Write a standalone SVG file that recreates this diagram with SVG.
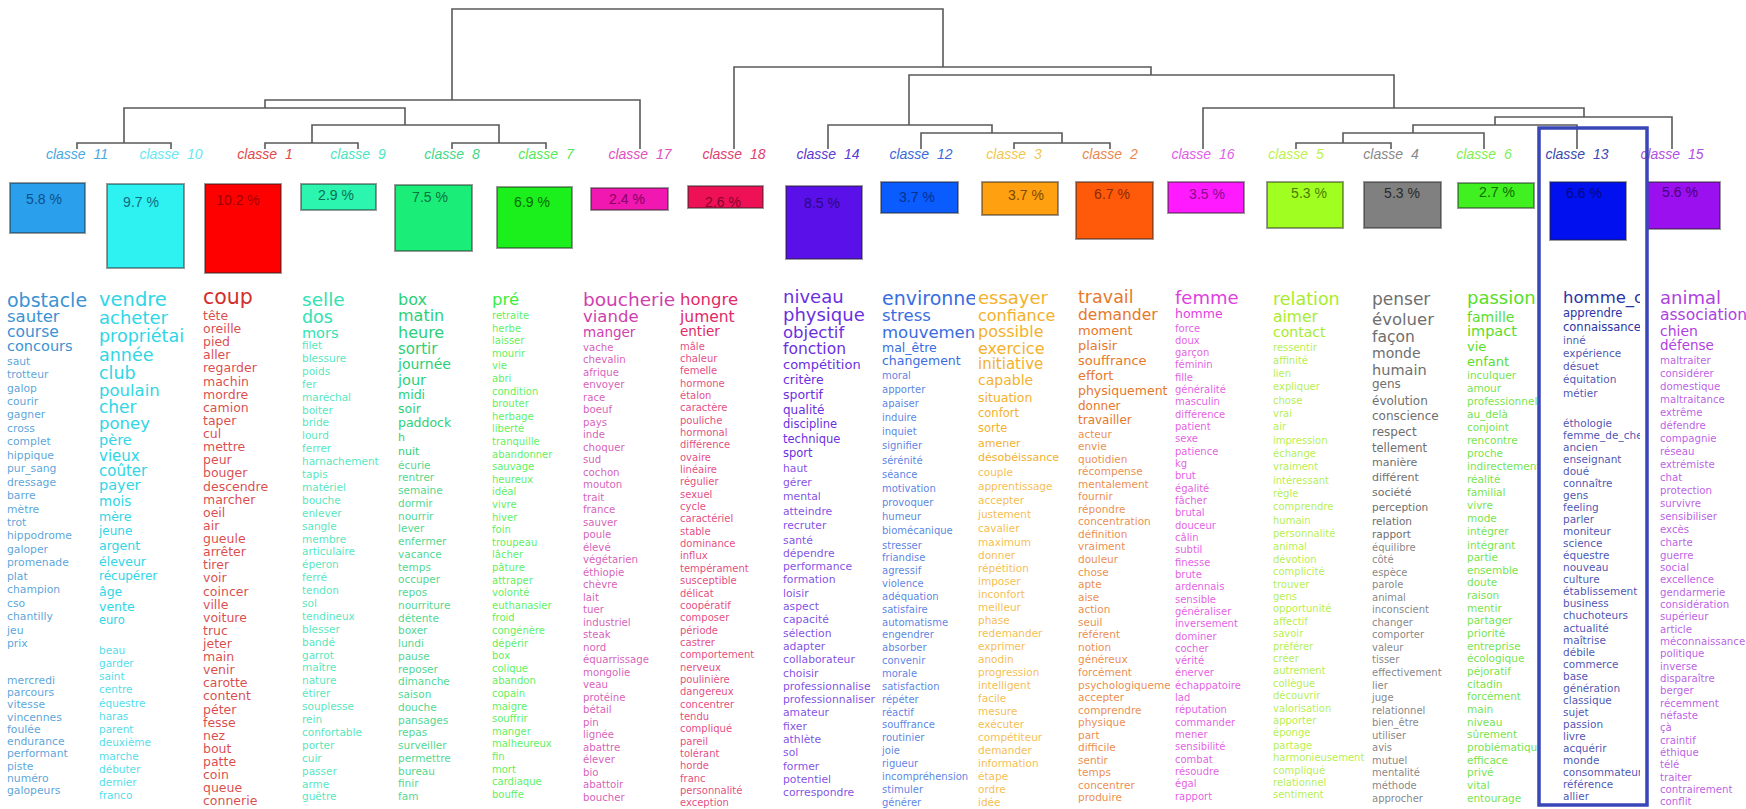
<svg xmlns="http://www.w3.org/2000/svg" width="1746" height="809" viewBox="0 0 1746 809">
<style>
.w text{font-family:"DejaVu Sans","Liberation Sans",sans-serif}
.sm{fill-opacity:.85}
.lbl{font-family:"Liberation Sans",Arial,sans-serif;font-style:italic;font-size:14px;text-anchor:middle}
.pct{font-family:"Liberation Sans",Arial,sans-serif;font-size:14px;text-anchor:middle}
.box{stroke:#222;stroke-opacity:.45;stroke-width:2}
.dend{fill:none;stroke:#5a5a5a;stroke-width:1.6}
</style>
<defs>
<clipPath id="k11"><rect x="-5" y="250" width="94" height="560"/></clipPath>
<clipPath id="k10"><rect x="-5" y="250" width="106" height="560"/></clipPath>
<clipPath id="k1"><rect x="-5" y="250" width="101" height="560"/></clipPath>
<clipPath id="k9"><rect x="-5" y="250" width="98" height="560"/></clipPath>
<clipPath id="k8"><rect x="-5" y="250" width="96" height="560"/></clipPath>
<clipPath id="k7"><rect x="-5" y="250" width="93" height="560"/></clipPath>
<clipPath id="k17"><rect x="-5" y="250" width="99" height="560"/></clipPath>
<clipPath id="k18"><rect x="-5" y="250" width="105" height="560"/></clipPath>
<clipPath id="k14"><rect x="-5" y="250" width="101" height="560"/></clipPath>
<clipPath id="k12"><rect x="-5" y="250" width="98" height="560"/></clipPath>
<clipPath id="k3"><rect x="-5" y="250" width="102" height="560"/></clipPath>
<clipPath id="k2"><rect x="-5" y="250" width="97" height="560"/></clipPath>
<clipPath id="k16"><rect x="-5" y="250" width="100" height="560"/></clipPath>
<clipPath id="k5"><rect x="-5" y="250" width="101" height="560"/></clipPath>
<clipPath id="k4"><rect x="-5" y="250" width="97" height="560"/></clipPath>
<clipPath id="k6"><rect x="-5" y="250" width="76" height="560"/></clipPath>
<clipPath id="k13"><rect x="-5" y="250" width="82" height="560"/></clipPath>
<clipPath id="k15"><rect x="-5" y="250" width="91" height="560"/></clipPath>
</defs>
<rect width="1746" height="809" fill="#fff"/>

<g id="connectors" class="dend">
<path d="M452,100V9H943V67"/>
<path d="M265,108V100H640V149"/>
<path d="M124,143V108H405V125"/>
<path d="M77,149V143H171V149"/>
<path d="M312,143V125H499V143"/>
<path d="M265,149V143H358V149"/>
<path d="M452,149V143H546V149"/>
<path d="M734,149V67H1151V75"/>
<path d="M909,125V75H1394V108"/>
<path d="M828,149V125H992V133"/>
<path d="M921,149V133H1062V143"/>
<path d="M1014,149V143H1110V149"/>
<path d="M1203,149V108H1584V117"/>
<path d="M1495,125V117H1672V149"/>
<path d="M1413,133V125H1577V149"/>
<path d="M1343,143V133H1484V149"/>
<path d="M1296,149V143H1391V149"/>
</g>

<g id="labels">
<text class="lbl" x="77" y="159" fill="#4aa8e0">classe <tspan dx="4">11</tspan></text>
<text class="lbl" x="171" y="159" fill="#66e8f2">classe <tspan dx="4">10</tspan></text>
<text class="lbl" x="265" y="159" fill="#e04848">classe <tspan dx="4">1</tspan></text>
<text class="lbl" x="358" y="159" fill="#4ae6c0">classe <tspan dx="4">9</tspan></text>
<text class="lbl" x="452" y="159" fill="#44d888">classe <tspan dx="4">8</tspan></text>
<text class="lbl" x="546" y="159" fill="#55ea55">classe <tspan dx="4">7</tspan></text>
<text class="lbl" x="640" y="159" fill="#e050c0">classe <tspan dx="4">17</tspan></text>
<text class="lbl" x="734" y="159" fill="#e04070">classe <tspan dx="4">18</tspan></text>
<text class="lbl" x="828" y="159" fill="#5a3ad0">classe <tspan dx="4">14</tspan></text>
<text class="lbl" x="921" y="159" fill="#3a6ad8">classe <tspan dx="4">12</tspan></text>
<text class="lbl" x="1014" y="159" fill="#f0c850">classe <tspan dx="4">3</tspan></text>
<text class="lbl" x="1110" y="159" fill="#e88850">classe <tspan dx="4">2</tspan></text>
<text class="lbl" x="1203" y="159" fill="#e060e8">classe <tspan dx="4">16</tspan></text>
<text class="lbl" x="1296" y="159" fill="#c0f050">classe <tspan dx="4">5</tspan></text>
<text class="lbl" x="1391" y="159" fill="#888">classe <tspan dx="4">4</tspan></text>
<text class="lbl" x="1484" y="159" fill="#80ee50">classe <tspan dx="4">6</tspan></text>
<text class="lbl" x="1577" y="159" fill="#3a48b0">classe <tspan dx="4">13</tspan></text>
<text class="lbl" x="1672" y="159" fill="#b050e0">classe <tspan dx="4">15</tspan></text>
</g>

<g id="boxes">
<g id="b11"><rect class="box" x="10" y="183" width="75" height="50" fill="#2aa0ec"/><text class="pct" x="44" y="204" fill="#0d4f8a">5.8 %</text></g>
<g id="b10"><rect class="box" x="107" y="184" width="77" height="84" fill="#2ef2f2"/><text class="pct" x="141" y="207" fill="#0e6b80">9.7 %</text></g>
<g id="b1"><rect class="box" x="205" y="184" width="76" height="89" fill="#ff0000"/><text class="pct" x="238" y="205" fill="#a00000">10.2 %</text></g>
<g id="b9"><rect class="box" x="301" y="184" width="75" height="26" fill="#2cf5b0"/><text class="pct" x="336" y="200" fill="#0a7050">2.9 %</text></g>
<g id="b8"><rect class="box" x="395" y="185" width="77" height="66" fill="#1aee78"/><text class="pct" x="430" y="202" fill="#0a7040">7.5 %</text></g>
<g id="b7"><rect class="box" x="497" y="187" width="75" height="61" fill="#1cf01c"/><text class="pct" x="532" y="207" fill="#0a6a0a">6.9 %</text></g>
<g id="b17"><rect class="box" x="591" y="188" width="77" height="22" fill="#f018b0"/><text class="pct" x="627" y="204" fill="#880060">2.4 %</text></g>
<g id="b18"><rect class="box" x="688" y="186" width="75" height="22" fill="#ee1155"/><text class="pct" x="723" y="207" fill="#880030">2.6 %</text></g>
<g id="b14"><rect class="box" x="786" y="186" width="76" height="73" fill="#5a10e8"/><text class="pct" x="822" y="208" fill="#2a0880">8.5 %</text></g>
<g id="b12"><rect class="box" x="881" y="182" width="77" height="31" fill="#0a5cff"/><text class="pct" x="917" y="202" fill="#06308a">3.7 %</text></g>
<g id="b3"><rect class="box" x="982" y="182" width="76" height="33" fill="#ffa010"/><text class="pct" x="1026" y="200" fill="#7a4a00">3.7 %</text></g>
<g id="b2"><rect class="box" x="1076" y="182" width="77" height="57" fill="#ff5a0a"/><text class="pct" x="1112" y="199" fill="#8a2a00">6.7 %</text></g>
<g id="b16"><rect class="box" x="1168" y="182" width="76" height="31" fill="#ff1aff"/><text class="pct" x="1207" y="199" fill="#8a0a8a">3.5 %</text></g>
<g id="b5"><rect class="box" x="1267" y="182" width="76" height="46" fill="#a0ff20"/><text class="pct" x="1309" y="198" fill="#4a7a00">5.3 %</text></g>
<g id="b4"><rect class="box" x="1364" y="182" width="77" height="46" fill="#808080"/><text class="pct" x="1402" y="198" fill="#2a2a2a">5.3 %</text></g>
<g id="b6"><rect class="box" x="1458" y="183" width="76" height="25" fill="#40f020"/><text class="pct" x="1497" y="197" fill="#106a00">2.7 %</text></g>
<g id="b13"><rect class="box" x="1550" y="182" width="76" height="58" fill="#0010ee"/><text class="pct" x="1584" y="198" fill="#000880">6.6 %</text></g>
<g id="b15"><rect class="box" x="1647" y="182" width="73" height="47" fill="#9a10ee"/><text class="pct" x="1680" y="197" fill="#4a0080">5.6 %</text></g>
</g>

<g class="w">
<g id="c11" transform="translate(7,0)" clip-path="url(#k11)" fill="#3a93d3">
<text y="306.5" font-size="19">obstacle</text>
<text y="322" font-size="16.5">sauter</text>
<text y="337" font-size="15.5">course</text>
<text y="351" font-size="14.5">concours</text>
<text class="sm" y="364.6" font-size="10.8"><tspan x="0">saut</tspan><tspan x="0" dy="13.45">trotteur</tspan><tspan x="0" dy="13.45">galop</tspan><tspan x="0" dy="13.45">courir</tspan><tspan x="0" dy="13.45">gagner</tspan><tspan x="0" dy="13.45">cross</tspan><tspan x="0" dy="13.45">complet</tspan><tspan x="0" dy="13.45">hippique</tspan><tspan x="0" dy="13.45">pur_sang</tspan><tspan x="0" dy="13.45">dressage</tspan><tspan x="0" dy="13.45">barre</tspan><tspan x="0" dy="13.45">mètre</tspan><tspan x="0" dy="13.45">trot</tspan><tspan x="0" dy="13.45">hippodrome</tspan><tspan x="0" dy="13.45">galoper</tspan><tspan x="0" dy="13.45">promenade</tspan><tspan x="0" dy="13.45">plat</tspan><tspan x="0" dy="13.45">champion</tspan><tspan x="0" dy="13.45">cso</tspan><tspan x="0" dy="13.45">chantilly</tspan><tspan x="0" dy="13.45">jeu</tspan><tspan x="0" dy="13.45">prix</tspan><tspan x="0" dy="36.6">mercredi</tspan><tspan x="0" dy="12.3">parcours</tspan><tspan x="0" dy="12.3">vitesse</tspan><tspan x="0" dy="12.3">vincennes</tspan><tspan x="0" dy="12.3">foulée</tspan><tspan x="0" dy="12.3">endurance</tspan><tspan x="0" dy="12.3">performant</tspan><tspan x="0" dy="12.3">piste</tspan><tspan x="0" dy="12.3">numéro</tspan><tspan x="0" dy="12.3">galopeurs</tspan></text>
</g>

<g id="c10" transform="translate(99,0)" clip-path="url(#k10)" fill="#2fd6e6">
<text y="305.5" font-size="19.5">vendre</text>
<text y="323.5" font-size="18">acheter</text>
<text y="341.5" font-size="17.5">propriétai</text>
<text y="360.5" font-size="17.5">année</text>
<text y="378.5" font-size="17.5">club</text>
<text y="396" font-size="16.5">poulain</text>
<text y="413" font-size="17">cher</text>
<text y="428.5" font-size="16.5">poney</text>
<text y="444.5" font-size="14.5">père</text>
<text y="460.5" font-size="15">vieux</text>
<text y="475.5" font-size="15">coûter</text>
<text y="490" font-size="14.5">payer</text>
<text y="506" font-size="13.5">mois</text>
<text y="521" font-size="12.5">mère</text>
<text y="535" font-size="12">jeune</text>
<text y="550" font-size="12.5">argent</text>
<text y="566" font-size="12.5">éleveur</text>
<text y="580" font-size="12">récupérer</text>
<text y="596" font-size="12.5">âge</text>
<text y="611" font-size="12.5">vente</text>
<text y="623.5" font-size="11.5">euro</text>
<text class="sm" y="653.5" font-size="10.5"><tspan x="0">beau</tspan><tspan x="0" dy="13.27">garder</tspan><tspan x="0" dy="13.27">saint</tspan><tspan x="0" dy="13.27">centre</tspan><tspan x="0" dy="13.27">équestre</tspan><tspan x="0" dy="13.27">haras</tspan><tspan x="0" dy="13.27">parent</tspan><tspan x="0" dy="13.27">deuxième</tspan><tspan x="0" dy="13.27">marche</tspan><tspan x="0" dy="13.27">débuter</tspan><tspan x="0" dy="13.27">dernier</tspan><tspan x="0" dy="13.27">franco</tspan></text>
</g>

<g id="c1" transform="translate(203,0)" clip-path="url(#k1)" fill="#d42c2c">
<text y="304" font-size="20.5">coup</text>
<text class="sm" y="320" font-size="12.5"><tspan x="0">tête</tspan><tspan x="0" dy="13.12">oreille</tspan><tspan x="0" dy="13.12">pied</tspan><tspan x="0" dy="13.12">aller</tspan><tspan x="0" dy="13.12">regarder</tspan><tspan x="0" dy="13.12">machin</tspan><tspan x="0" dy="13.12">mordre</tspan><tspan x="0" dy="13.12">camion</tspan><tspan x="0" dy="13.12">taper</tspan><tspan x="0" dy="13.12">cul</tspan><tspan x="0" dy="13.12">mettre</tspan><tspan x="0" dy="13.12">peur</tspan><tspan x="0" dy="13.12">bouger</tspan><tspan x="0" dy="13.12">descendre</tspan><tspan x="0" dy="13.12">marcher</tspan><tspan x="0" dy="13.12">oeil</tspan><tspan x="0" dy="13.12">air</tspan><tspan x="0" dy="13.12">gueule</tspan><tspan x="0" dy="13.12">arrêter</tspan><tspan x="0" dy="13.12">tirer</tspan><tspan x="0" dy="13.12">voir</tspan><tspan x="0" dy="13.12">coincer</tspan><tspan x="0" dy="13.12">ville</tspan><tspan x="0" dy="13.12">voiture</tspan><tspan x="0" dy="13.12">truc</tspan><tspan x="0" dy="13.12">jeter</tspan><tspan x="0" dy="13.12">main</tspan><tspan x="0" dy="13.12">venir</tspan><tspan x="0" dy="13.12">carotte</tspan><tspan x="0" dy="13.12">content</tspan><tspan x="0" dy="13.12">péter</tspan><tspan x="0" dy="13.12">fesse</tspan><tspan x="0" dy="13.12">nez</tspan><tspan x="0" dy="13.12">bout</tspan><tspan x="0" dy="13.12">patte</tspan><tspan x="0" dy="13.12">coin</tspan><tspan x="0" dy="13.12">queue</tspan><tspan x="0" dy="13.12">connerie</tspan></text>
</g>

<g id="c9" transform="translate(302,0)" clip-path="url(#k9)" fill="#33e2b2">
<text y="305.5" font-size="18.5">selle</text>
<text y="322.5" font-size="17.5">dos</text>
<text y="337.5" font-size="14.5">mors</text>
<text class="sm" y="349" font-size="10.5"><tspan x="0">filet</tspan><tspan x="0" dy="12.9">blessure</tspan><tspan x="0" dy="12.9">poids</tspan><tspan x="0" dy="12.9">fer</tspan><tspan x="0" dy="12.9">maréchal</tspan><tspan x="0" dy="12.9">boiter</tspan><tspan x="0" dy="12.9">bride</tspan><tspan x="0" dy="12.9">lourd</tspan><tspan x="0" dy="12.9">ferrer</tspan><tspan x="0" dy="12.9">harnachement</tspan><tspan x="0" dy="12.9">tapis</tspan><tspan x="0" dy="12.9">matériel</tspan><tspan x="0" dy="12.9">bouche</tspan><tspan x="0" dy="12.9">enlever</tspan><tspan x="0" dy="12.9">sangle</tspan><tspan x="0" dy="12.9">membre</tspan><tspan x="0" dy="12.9">articulaire</tspan><tspan x="0" dy="12.9">éperon</tspan><tspan x="0" dy="12.9">ferré</tspan><tspan x="0" dy="12.9">tendon</tspan><tspan x="0" dy="12.9">sol</tspan><tspan x="0" dy="12.9">tendineux</tspan><tspan x="0" dy="12.9">blesser</tspan><tspan x="0" dy="12.9">bandé</tspan><tspan x="0" dy="12.9">garrot</tspan><tspan x="0" dy="12.9">maître</tspan><tspan x="0" dy="12.9">nature</tspan><tspan x="0" dy="12.9">étirer</tspan><tspan x="0" dy="12.9">souplesse</tspan><tspan x="0" dy="12.9">rein</tspan><tspan x="0" dy="12.9">confortable</tspan><tspan x="0" dy="12.9">porter</tspan><tspan x="0" dy="12.9">cuir</tspan><tspan x="0" dy="12.9">passer</tspan><tspan x="0" dy="12.9">arme</tspan><tspan x="0" dy="12.9">guêtre</tspan></text>
</g>

<g id="c8" transform="translate(398,0)" clip-path="url(#k8)" fill="#2ccf78">
<text y="305" font-size="16">box</text>
<text y="321" font-size="16">matin</text>
<text y="337.5" font-size="16">heure</text>
<text y="353.5" font-size="15">sortir</text>
<text y="368.5" font-size="14">journée</text>
<text y="384.5" font-size="14.5">jour</text>
<text y="399" font-size="12.5">midi</text>
<text y="413" font-size="12.5">soir</text>
<text y="427" font-size="12.5">paddock</text>
<text y="441" font-size="11">h</text>
<text y="455" font-size="11">nuit</text>
<text class="sm" y="468.5" font-size="10.5"><tspan x="0">écurie</tspan><tspan x="0" dy="12.75">rentrer</tspan><tspan x="0" dy="12.75">semaine</tspan><tspan x="0" dy="12.75">dormir</tspan><tspan x="0" dy="12.75">nourrir</tspan><tspan x="0" dy="12.75">lever</tspan><tspan x="0" dy="12.75">enfermer</tspan><tspan x="0" dy="12.75">vacance</tspan><tspan x="0" dy="12.75">temps</tspan><tspan x="0" dy="12.75">occuper</tspan><tspan x="0" dy="12.75">repos</tspan><tspan x="0" dy="12.75">nourriture</tspan><tspan x="0" dy="12.75">détente</tspan><tspan x="0" dy="12.75">boxer</tspan><tspan x="0" dy="12.75">lundi</tspan><tspan x="0" dy="12.75">pause</tspan><tspan x="0" dy="12.75">reposer</tspan><tspan x="0" dy="12.75">dimanche</tspan><tspan x="0" dy="12.75">saison</tspan><tspan x="0" dy="12.75">douche</tspan><tspan x="0" dy="12.75">pansages</tspan><tspan x="0" dy="12.75">repas</tspan><tspan x="0" dy="12.75">surveiller</tspan><tspan x="0" dy="12.75">permettre</tspan><tspan x="0" dy="12.75">bureau</tspan><tspan x="0" dy="12.75">finir</tspan><tspan x="0" dy="12.75">fam</tspan></text>
</g>

<g id="c7" transform="translate(492,0)" clip-path="url(#k7)" fill="#3ced3c">
<text y="305" font-size="16.5">pré</text>
<text class="sm" y="319" font-size="10"><tspan x="0">retraite</tspan><tspan x="0" dy="12.6">herbe</tspan><tspan x="0" dy="12.6">laisser</tspan><tspan x="0" dy="12.6">mourir</tspan><tspan x="0" dy="12.6">vie</tspan><tspan x="0" dy="12.6">abri</tspan><tspan x="0" dy="12.6">condition</tspan><tspan x="0" dy="12.6">brouter</tspan><tspan x="0" dy="12.6">herbage</tspan><tspan x="0" dy="12.6">liberté</tspan><tspan x="0" dy="12.6">tranquille</tspan><tspan x="0" dy="12.6">abandonner</tspan><tspan x="0" dy="12.6">sauvage</tspan><tspan x="0" dy="12.6">heureux</tspan><tspan x="0" dy="12.6">idéal</tspan><tspan x="0" dy="12.6">vivre</tspan><tspan x="0" dy="12.6">hiver</tspan><tspan x="0" dy="12.6">foin</tspan><tspan x="0" dy="12.6">troupeau</tspan><tspan x="0" dy="12.6">lâcher</tspan><tspan x="0" dy="12.6">pâture</tspan><tspan x="0" dy="12.6">attraper</tspan><tspan x="0" dy="12.6">volonté</tspan><tspan x="0" dy="12.6">euthanasier</tspan><tspan x="0" dy="12.6">froid</tspan><tspan x="0" dy="12.6">congénère</tspan><tspan x="0" dy="12.6">dépérir</tspan><tspan x="0" dy="12.6">box</tspan><tspan x="0" dy="12.6">colique</tspan><tspan x="0" dy="12.6">abandon</tspan><tspan x="0" dy="12.6">copain</tspan><tspan x="0" dy="12.6">maigre</tspan><tspan x="0" dy="12.6">souffrir</tspan><tspan x="0" dy="12.6">manger</tspan><tspan x="0" dy="12.6">malheureux</tspan><tspan x="0" dy="12.6">fin</tspan><tspan x="0" dy="12.6">mort</tspan><tspan x="0" dy="12.6">cardiaque</tspan><tspan x="0" dy="12.6">bouffe</tspan></text>
</g>

<g id="c17" transform="translate(583,0)" clip-path="url(#k17)" fill="#d03fae">
<text y="305.5" font-size="18.5">boucherie</text>
<text y="322" font-size="16.5">viande</text>
<text y="337" font-size="13.5">manger</text>
<text class="sm" y="351" font-size="10.2"><tspan x="0">vache</tspan><tspan x="0" dy="12.49">chevalin</tspan><tspan x="0" dy="12.49">afrique</tspan><tspan x="0" dy="12.49">envoyer</tspan><tspan x="0" dy="12.49">race</tspan><tspan x="0" dy="12.49">boeuf</tspan><tspan x="0" dy="12.49">pays</tspan><tspan x="0" dy="12.49">inde</tspan><tspan x="0" dy="12.49">choquer</tspan><tspan x="0" dy="12.49">sud</tspan><tspan x="0" dy="12.49">cochon</tspan><tspan x="0" dy="12.49">mouton</tspan><tspan x="0" dy="12.49">trait</tspan><tspan x="0" dy="12.49">france</tspan><tspan x="0" dy="12.49">sauver</tspan><tspan x="0" dy="12.49">poule</tspan><tspan x="0" dy="12.49">élevé</tspan><tspan x="0" dy="12.49">végétarien</tspan><tspan x="0" dy="12.49">éthiopie</tspan><tspan x="0" dy="12.49">chèvre</tspan><tspan x="0" dy="12.49">lait</tspan><tspan x="0" dy="12.49">tuer</tspan><tspan x="0" dy="12.49">industriel</tspan><tspan x="0" dy="12.49">steak</tspan><tspan x="0" dy="12.49">nord</tspan><tspan x="0" dy="12.49">équarrissage</tspan><tspan x="0" dy="12.49">mongolie</tspan><tspan x="0" dy="12.49">veau</tspan><tspan x="0" dy="12.49">protéine</tspan><tspan x="0" dy="12.49">bétail</tspan><tspan x="0" dy="12.49">pin</tspan><tspan x="0" dy="12.49">lignée</tspan><tspan x="0" dy="12.49">abattre</tspan><tspan x="0" dy="12.49">élever</tspan><tspan x="0" dy="12.49">bio</tspan><tspan x="0" dy="12.49">abattoir</tspan><tspan x="0" dy="12.49">boucher</tspan></text>
</g>

<g id="c18" transform="translate(680,0)" clip-path="url(#k18)" fill="#e02a68">
<text y="305" font-size="16.5">hongre</text>
<text y="322" font-size="15.5">jument</text>
<text y="336" font-size="13.5">entier</text>
<text class="sm" y="349.5" font-size="10"><tspan x="0">mâle</tspan><tspan x="0" dy="12.35">chaleur</tspan><tspan x="0" dy="12.35">femelle</tspan><tspan x="0" dy="12.35">hormone</tspan><tspan x="0" dy="12.35">étalon</tspan><tspan x="0" dy="12.35">caractère</tspan><tspan x="0" dy="12.35">pouliche</tspan><tspan x="0" dy="12.35">hormonal</tspan><tspan x="0" dy="12.35">différence</tspan><tspan x="0" dy="12.35">ovaire</tspan><tspan x="0" dy="12.35">linéaire</tspan><tspan x="0" dy="12.35">régulier</tspan><tspan x="0" dy="12.35">sexuel</tspan><tspan x="0" dy="12.35">cycle</tspan><tspan x="0" dy="12.35">caractériel</tspan><tspan x="0" dy="12.35">stable</tspan><tspan x="0" dy="12.35">dominance</tspan><tspan x="0" dy="12.35">influx</tspan><tspan x="0" dy="12.35">tempérament</tspan><tspan x="0" dy="12.35">susceptible</tspan><tspan x="0" dy="12.35">délicat</tspan><tspan x="0" dy="12.35">coopératif</tspan><tspan x="0" dy="12.35">composer</tspan><tspan x="0" dy="12.35">période</tspan><tspan x="0" dy="12.35">castrer</tspan><tspan x="0" dy="12.35">comportement</tspan><tspan x="0" dy="12.35">nerveux</tspan><tspan x="0" dy="12.35">poulinière</tspan><tspan x="0" dy="12.35">dangereux</tspan><tspan x="0" dy="12.35">concentrer</tspan><tspan x="0" dy="12.35">tendu</tspan><tspan x="0" dy="12.35">compliqué</tspan><tspan x="0" dy="12.35">pareil</tspan><tspan x="0" dy="12.35">tolérant</tspan><tspan x="0" dy="12.35">horde</tspan><tspan x="0" dy="12.35">franc</tspan><tspan x="0" dy="12.35">personnalité</tspan><tspan x="0" dy="12.35">exception</tspan></text>
</g>

<g id="c14" transform="translate(783,0)" clip-path="url(#k14)" fill="#6a2fe0">
<text y="302.5" font-size="18">niveau</text>
<text y="321" font-size="18">physique</text>
<text y="337.5" font-size="16.5">objectif</text>
<text y="354" font-size="15.5">fonction</text>
<text y="368.5" font-size="13">compétition</text>
<text y="384" font-size="12.5">critère</text>
<text y="399" font-size="12.5">sportif</text>
<text y="413.5" font-size="12">qualité</text>
<text y="427.5" font-size="11.5">discipline</text>
<text y="442.5" font-size="11.5">technique</text>
<text y="456.5" font-size="11.5">sport</text>
<text class="sm" y="471.5" font-size="10.8"><tspan x="0">haut</tspan><tspan x="0" dy="14.4">gérer</tspan><tspan x="0" dy="14.4">mental</tspan><tspan x="0" dy="14.4">atteindre</tspan><tspan x="0" dy="14.4">recruter</tspan><tspan x="0" dy="14.4">santé</tspan><tspan x="0" dy="13.3">dépendre</tspan><tspan x="0" dy="13.3">performance</tspan><tspan x="0" dy="13.3">formation</tspan><tspan x="0" dy="13.3">loisir</tspan><tspan x="0" dy="13.3">aspect</tspan><tspan x="0" dy="13.3">capacité</tspan><tspan x="0" dy="13.3">sélection</tspan><tspan x="0" dy="13.3">adapter</tspan><tspan x="0" dy="13.3">collaborateur</tspan><tspan x="0" dy="13.3">choisir</tspan><tspan x="0" dy="13.3">professionnalise</tspan><tspan x="0" dy="13.3">professionnaliser</tspan><tspan x="0" dy="13.3">amateur</tspan><tspan x="0" dy="13.3">fixer</tspan><tspan x="0" dy="13.3">athlète</tspan><tspan x="0" dy="13.3">sol</tspan><tspan x="0" dy="13.3">former</tspan><tspan x="0" dy="13.3">potentiel</tspan><tspan x="0" dy="13.3">correspondre</tspan></text>
</g>

<g id="c12" transform="translate(882,0)" clip-path="url(#k12)" fill="#3a6de0">
<text y="305" font-size="19">environne</text>
<text y="321" font-size="16.5">stress</text>
<text y="338" font-size="16.5">mouvemen</text>
<text y="352" font-size="12.5">mal_être</text>
<text y="365" font-size="12.5">changement</text>
<text class="sm" y="378.5" font-size="10"><tspan x="0">moral</tspan><tspan x="0" dy="14.17">apporter</tspan><tspan x="0" dy="14.17">apaiser</tspan><tspan x="0" dy="14.17">induire</tspan><tspan x="0" dy="14.17">inquiet</tspan><tspan x="0" dy="14.17">signifier</tspan><tspan x="0" dy="14.17">sérénité</tspan><tspan x="0" dy="14.17">séance</tspan><tspan x="0" dy="14.17">motivation</tspan><tspan x="0" dy="14.17">provoquer</tspan><tspan x="0" dy="14.17">humeur</tspan><tspan x="0" dy="14.17">biomécanique</tspan><tspan x="0" dy="14.17">stresser</tspan><tspan x="0" dy="12.85">friandise</tspan><tspan x="0" dy="12.85">agressif</tspan><tspan x="0" dy="12.85">violence</tspan><tspan x="0" dy="12.85">adéquation</tspan><tspan x="0" dy="12.85">satisfaire</tspan><tspan x="0" dy="12.85">automatisme</tspan><tspan x="0" dy="12.85">engendrer</tspan><tspan x="0" dy="12.85">absorber</tspan><tspan x="0" dy="12.85">convenir</tspan><tspan x="0" dy="12.85">morale</tspan><tspan x="0" dy="12.85">satisfaction</tspan><tspan x="0" dy="12.85">répéter</tspan><tspan x="0" dy="12.85">réactif</tspan><tspan x="0" dy="12.85">souffrance</tspan><tspan x="0" dy="12.85">routinier</tspan><tspan x="0" dy="12.85">joie</tspan><tspan x="0" dy="12.85">rigueur</tspan><tspan x="0" dy="12.85">incompréhension</tspan><tspan x="0" dy="12.85">stimuler</tspan><tspan x="0" dy="12.85">générer</tspan></text>
</g>

<g id="c3" transform="translate(978,0)" clip-path="url(#k3)" fill="#f4b12c">
<text y="303.5" font-size="18">essayer</text>
<text y="320.5" font-size="16">confiance</text>
<text y="337" font-size="16">possible</text>
<text y="354" font-size="16">exercice</text>
<text y="369" font-size="15">initiative</text>
<text y="385" font-size="14">capable</text>
<text y="402" font-size="12.5">situation</text>
<text y="417" font-size="11.5">confort</text>
<text y="432" font-size="11.5">sorte</text>
<text y="446.5" font-size="11">amener</text>
<text y="460.5" font-size="11">désobéissance</text>
<text class="sm" y="475.5" font-size="10.5"><tspan x="0">couple</tspan><tspan x="0" dy="14">apprentissage</tspan><tspan x="0" dy="14">accepter</tspan><tspan x="0" dy="14">justement</tspan><tspan x="0" dy="14">cavalier</tspan><tspan x="0" dy="14">maximum</tspan><tspan x="0" dy="13">donner</tspan><tspan x="0" dy="13">répétition</tspan><tspan x="0" dy="13">imposer</tspan><tspan x="0" dy="13">inconfort</tspan><tspan x="0" dy="13">meilleur</tspan><tspan x="0" dy="13">phase</tspan><tspan x="0" dy="13">redemander</tspan><tspan x="0" dy="13">exprimer</tspan><tspan x="0" dy="13">anodin</tspan><tspan x="0" dy="13">progression</tspan><tspan x="0" dy="13">intelligent</tspan><tspan x="0" dy="13">facile</tspan><tspan x="0" dy="13">mesure</tspan><tspan x="0" dy="13">exécuter</tspan><tspan x="0" dy="13">compétiteur</tspan><tspan x="0" dy="13">demander</tspan><tspan x="0" dy="13">information</tspan><tspan x="0" dy="13">étape</tspan><tspan x="0" dy="13">ordre</tspan><tspan x="0" dy="13">idée</tspan></text>
</g>

<g id="c2" transform="translate(1078,0)" clip-path="url(#k2)" fill="#e8782a">
<text y="303" font-size="17.5">travail</text>
<text y="320" font-size="15.5">demander</text>
<text y="335" font-size="13">moment</text>
<text y="350" font-size="13">plaisir</text>
<text y="365" font-size="13">souffrance</text>
<text y="380" font-size="13">effort</text>
<text y="395" font-size="12.5">physiquement</text>
<text y="409.5" font-size="12">donner</text>
<text y="423.5" font-size="12">travailler</text>
<text class="sm" y="437.5" font-size="10.5"><tspan x="0">acteur</tspan><tspan x="0" dy="12.55">envie</tspan><tspan x="0" dy="12.55">quotidien</tspan><tspan x="0" dy="12.55">récompense</tspan><tspan x="0" dy="12.55">mentalement</tspan><tspan x="0" dy="12.55">fournir</tspan><tspan x="0" dy="12.55">répondre</tspan><tspan x="0" dy="12.55">concentration</tspan><tspan x="0" dy="12.55">définition</tspan><tspan x="0" dy="12.55">vraiment</tspan><tspan x="0" dy="12.55">douleur</tspan><tspan x="0" dy="12.55">chose</tspan><tspan x="0" dy="12.55">apte</tspan><tspan x="0" dy="12.55">aise</tspan><tspan x="0" dy="12.55">action</tspan><tspan x="0" dy="12.55">seuil</tspan><tspan x="0" dy="12.55">référent</tspan><tspan x="0" dy="12.55">notion</tspan><tspan x="0" dy="12.55">généreux</tspan><tspan x="0" dy="12.55">forcément</tspan><tspan x="0" dy="12.55">psychologiqueme</tspan><tspan x="0" dy="12.55">accepter</tspan><tspan x="0" dy="12.55">comprendre</tspan><tspan x="0" dy="12.55">physique</tspan><tspan x="0" dy="12.55">part</tspan><tspan x="0" dy="12.55">difficile</tspan><tspan x="0" dy="12.55">sentir</tspan><tspan x="0" dy="12.55">temps</tspan><tspan x="0" dy="12.55">concentrer</tspan><tspan x="0" dy="12.55">produire</tspan></text>
</g>

<g id="c16" transform="translate(1175,0)" clip-path="url(#k16)" fill="#e03fe0">
<text y="303.5" font-size="18">femme</text>
<text y="318" font-size="12.5">homme</text>
<text class="sm" y="331.5" font-size="10"><tspan x="0">force</tspan><tspan x="0" dy="12.32">doux</tspan><tspan x="0" dy="12.32">garçon</tspan><tspan x="0" dy="12.32">féminin</tspan><tspan x="0" dy="12.32">fille</tspan><tspan x="0" dy="12.32">généralité</tspan><tspan x="0" dy="12.32">masculin</tspan><tspan x="0" dy="12.32">différence</tspan><tspan x="0" dy="12.32">patient</tspan><tspan x="0" dy="12.32">sexe</tspan><tspan x="0" dy="12.32">patience</tspan><tspan x="0" dy="12.32">kg</tspan><tspan x="0" dy="12.32">brut</tspan><tspan x="0" dy="12.32">égalité</tspan><tspan x="0" dy="12.32">fâcher</tspan><tspan x="0" dy="12.32">brutal</tspan><tspan x="0" dy="12.32">douceur</tspan><tspan x="0" dy="12.32">câlin</tspan><tspan x="0" dy="12.32">subtil</tspan><tspan x="0" dy="12.32">finesse</tspan><tspan x="0" dy="12.32">brute</tspan><tspan x="0" dy="12.32">ardennais</tspan><tspan x="0" dy="12.32">sensible</tspan><tspan x="0" dy="12.32">généraliser</tspan><tspan x="0" dy="12.32">inversement</tspan><tspan x="0" dy="12.32">dominer</tspan><tspan x="0" dy="12.32">cocher</tspan><tspan x="0" dy="12.32">vérité</tspan><tspan x="0" dy="12.32">énerver</tspan><tspan x="0" dy="12.32">échappatoire</tspan><tspan x="0" dy="12.32">lad</tspan><tspan x="0" dy="12.32">réputation</tspan><tspan x="0" dy="12.32">commander</tspan><tspan x="0" dy="12.32">mener</tspan><tspan x="0" dy="12.32">sensibilité</tspan><tspan x="0" dy="12.32">combat</tspan><tspan x="0" dy="12.32">résoudre</tspan><tspan x="0" dy="12.32">égal</tspan><tspan x="0" dy="12.32">rapport</tspan></text>
</g>

<g id="c5" transform="translate(1273,0)" clip-path="url(#k5)" fill="#a8ec2c">
<text y="305" font-size="17.5">relation</text>
<text y="322" font-size="15.5">aimer</text>
<text y="336.5" font-size="14">contact</text>
<text class="sm" y="350.5" font-size="10"><tspan x="0">ressentir</tspan><tspan x="0" dy="13.33">affinité</tspan><tspan x="0" dy="13.33">lien</tspan><tspan x="0" dy="13.33">expliquer</tspan><tspan x="0" dy="13.33">chose</tspan><tspan x="0" dy="13.33">vrai</tspan><tspan x="0" dy="13.33">air</tspan><tspan x="0" dy="13.33">impression</tspan><tspan x="0" dy="13.33">échange</tspan><tspan x="0" dy="13.33">vraiment</tspan><tspan x="0" dy="13.33">intéressant</tspan><tspan x="0" dy="13.33">règle</tspan><tspan x="0" dy="13.33">comprendre</tspan><tspan x="0" dy="13.33">humain</tspan><tspan x="0" dy="13.33">personnalité</tspan><tspan x="0" dy="13.33">animal</tspan><tspan x="0" dy="12.4">dévotion</tspan><tspan x="0" dy="12.4">complicité</tspan><tspan x="0" dy="12.4">trouver</tspan><tspan x="0" dy="12.4">gens</tspan><tspan x="0" dy="12.4">opportunité</tspan><tspan x="0" dy="12.4">affectif</tspan><tspan x="0" dy="12.4">savoir</tspan><tspan x="0" dy="12.4">préférer</tspan><tspan x="0" dy="12.4">créer</tspan><tspan x="0" dy="12.4">autrement</tspan><tspan x="0" dy="12.4">collègue</tspan><tspan x="0" dy="12.4">découvrir</tspan><tspan x="0" dy="12.4">valorisation</tspan><tspan x="0" dy="12.4">apporter</tspan><tspan x="0" dy="12.4">éponge</tspan><tspan x="0" dy="12.4">partage</tspan><tspan x="0" dy="12.4">harmonieusement</tspan><tspan x="0" dy="12.4">compliqué</tspan><tspan x="0" dy="12.4">relationnel</tspan><tspan x="0" dy="12.4">sentiment</tspan></text>
</g>

<g id="c4" transform="translate(1372,0)" clip-path="url(#k4)" fill="#6f6f6f">
<text y="305" font-size="17">penser</text>
<text y="325" font-size="16.5">évoluer</text>
<text y="342" font-size="15.5">façon</text>
<text y="358" font-size="14">monde</text>
<text y="374.5" font-size="14.5">humain</text>
<text y="388" font-size="12">gens</text>
<text y="404.5" font-size="12">évolution</text>
<text y="419.5" font-size="12">conscience</text>
<text y="435.5" font-size="12">respect</text>
<text y="451.5" font-size="11.5">tellement</text>
<text y="465.5" font-size="11">manière</text>
<text y="480.5" font-size="11">différent</text>
<text y="495.5" font-size="11">société</text>
<text y="510.5" font-size="10.5">perception</text>
<text y="524.5" font-size="10.5">relation</text>
<text y="537.5" font-size="10.5">rapport</text>
<text class="sm" y="550.5" font-size="10"><tspan x="0">équilibre</tspan><tspan x="0" dy="12.55">côté</tspan><tspan x="0" dy="12.55">espèce</tspan><tspan x="0" dy="12.55">parole</tspan><tspan x="0" dy="12.55">animal</tspan><tspan x="0" dy="12.55">inconscient</tspan><tspan x="0" dy="12.55">changer</tspan><tspan x="0" dy="12.55">comporter</tspan><tspan x="0" dy="12.55">valeur</tspan><tspan x="0" dy="12.55">tisser</tspan><tspan x="0" dy="12.55">effectivement</tspan><tspan x="0" dy="12.55">lier</tspan><tspan x="0" dy="12.55">juge</tspan><tspan x="0" dy="12.55">relationnel</tspan><tspan x="0" dy="12.55">bien_être</tspan><tspan x="0" dy="12.55">utiliser</tspan><tspan x="0" dy="12.55">avis</tspan><tspan x="0" dy="12.55">mutuel</tspan><tspan x="0" dy="12.55">mentalité</tspan><tspan x="0" dy="12.55">méthode</tspan><tspan x="0" dy="12.55">approcher</tspan></text>
</g>

<g id="c6" transform="translate(1467,0)" clip-path="url(#k6)" fill="#58de2a">
<text y="303.5" font-size="18">passion</text>
<text y="321.5" font-size="14">famille</text>
<text y="335.5" font-size="14.5">impact</text>
<text y="351" font-size="13">vie</text>
<text y="366" font-size="13">enfant</text>
<text class="sm" y="378.5" font-size="10.5"><tspan x="0">inculquer</tspan><tspan x="0" dy="13.08">amour</tspan><tspan x="0" dy="13.08">professionnel</tspan><tspan x="0" dy="13.08">au_delà</tspan><tspan x="0" dy="13.08">conjoint</tspan><tspan x="0" dy="13.08">rencontre</tspan><tspan x="0" dy="13.08">proche</tspan><tspan x="0" dy="13.08">indirectement</tspan><tspan x="0" dy="13.08">réalité</tspan><tspan x="0" dy="13.08">familial</tspan><tspan x="0" dy="13.08">vivre</tspan><tspan x="0" dy="13.08">mode</tspan><tspan x="0" dy="13.08">intégrer</tspan><tspan x="0" dy="13.08">intégrant</tspan><tspan x="0" dy="12.65">partie</tspan><tspan x="0" dy="12.65">ensemble</tspan><tspan x="0" dy="12.65">doute</tspan><tspan x="0" dy="12.65">raison</tspan><tspan x="0" dy="12.65">mentir</tspan><tspan x="0" dy="12.65">partager</tspan><tspan x="0" dy="12.65">priorité</tspan><tspan x="0" dy="12.65">entreprise</tspan><tspan x="0" dy="12.65">écologique</tspan><tspan x="0" dy="12.65">péjoratif</tspan><tspan x="0" dy="12.65">citadin</tspan><tspan x="0" dy="12.65">forcément</tspan><tspan x="0" dy="12.65">main</tspan><tspan x="0" dy="12.65">niveau</tspan><tspan x="0" dy="12.65">sûrement</tspan><tspan x="0" dy="12.65">problématique</tspan><tspan x="0" dy="12.65">efficace</tspan><tspan x="0" dy="12.65">privé</tspan><tspan x="0" dy="12.65">vital</tspan><tspan x="0" dy="12.65">entourage</tspan></text>
</g>

<g id="c13" transform="translate(1563,0)" clip-path="url(#k13)" fill="#2a34a6">
<text y="303" font-size="16.5">homme_ch</text>
<text y="316.5" font-size="11.5">apprendre</text>
<text y="330.5" font-size="11.5">connaissance</text>
<text class="sm" y="343.5" font-size="10.5"><tspan x="0">inné</tspan><tspan x="0" dy="13.25">expérience</tspan><tspan x="0" dy="13.25">désuet</tspan><tspan x="0" dy="13.25">équitation</tspan><tspan x="0" dy="13.25">métier</tspan><tspan x="0" dy="30">éthologie</tspan><tspan x="0" dy="12.06">femme_de_chev</tspan><tspan x="0" dy="12.06">ancien</tspan><tspan x="0" dy="12.06">enseignant</tspan><tspan x="0" dy="12.06">doué</tspan><tspan x="0" dy="12.06">connaître</tspan><tspan x="0" dy="12.06">gens</tspan><tspan x="0" dy="12.06">feeling</tspan><tspan x="0" dy="12.06">parler</tspan><tspan x="0" dy="12.06">moniteur</tspan><tspan x="0" dy="12.06">science</tspan><tspan x="0" dy="12.06">équestre</tspan><tspan x="0" dy="12.06">nouveau</tspan><tspan x="0" dy="12.06">culture</tspan><tspan x="0" dy="12.06">établissement</tspan><tspan x="0" dy="12.06">business</tspan><tspan x="0" dy="12.06">chuchoteurs</tspan><tspan x="0" dy="12.06">actualité</tspan><tspan x="0" dy="12.06">maîtrise</tspan><tspan x="0" dy="12.06">débile</tspan><tspan x="0" dy="12.06">commerce</tspan><tspan x="0" dy="12.06">base</tspan><tspan x="0" dy="12.06">génération</tspan><tspan x="0" dy="12.06">classique</tspan><tspan x="0" dy="12.06">sujet</tspan><tspan x="0" dy="12.06">passion</tspan><tspan x="0" dy="12.06">livre</tspan><tspan x="0" dy="12.06">acquérir</tspan><tspan x="0" dy="12.06">monde</tspan><tspan x="0" dy="12.06">consommateur</tspan><tspan x="0" dy="12.06">référence</tspan><tspan x="0" dy="12.06">allier</tspan></text>
</g>

<g id="c15" transform="translate(1660,0)" clip-path="url(#k15)" fill="#b03fe0">
<text y="303.5" font-size="18">animal</text>
<text y="320" font-size="15.5">association</text>
<text y="335.5" font-size="14">chien</text>
<text y="350" font-size="13.5">défense</text>
<text class="sm" y="363.5" font-size="10.2"><tspan x="0">maltraiter</tspan><tspan x="0" dy="13.07">considérer</tspan><tspan x="0" dy="13.07">domestique</tspan><tspan x="0" dy="13.07">maltraitance</tspan><tspan x="0" dy="13.07">extrême</tspan><tspan x="0" dy="13.07">défendre</tspan><tspan x="0" dy="13.07">compagnie</tspan><tspan x="0" dy="13.07">réseau</tspan><tspan x="0" dy="13.07">extrémiste</tspan><tspan x="0" dy="13.07">chat</tspan><tspan x="0" dy="13.07">protection</tspan><tspan x="0" dy="13.07">survivre</tspan><tspan x="0" dy="13.07">sensibiliser</tspan><tspan x="0" dy="13.07">excès</tspan><tspan x="0" dy="13.07">charte</tspan><tspan x="0" dy="12.33">guerre</tspan><tspan x="0" dy="12.33">social</tspan><tspan x="0" dy="12.33">excellence</tspan><tspan x="0" dy="12.33">gendarmerie</tspan><tspan x="0" dy="12.33">considération</tspan><tspan x="0" dy="12.33">supérieur</tspan><tspan x="0" dy="12.33">article</tspan><tspan x="0" dy="12.33">méconnaissance</tspan><tspan x="0" dy="12.33">politique</tspan><tspan x="0" dy="12.33">inverse</tspan><tspan x="0" dy="12.33">disparaître</tspan><tspan x="0" dy="12.33">berger</tspan><tspan x="0" dy="12.33">récemment</tspan><tspan x="0" dy="12.33">néfaste</tspan><tspan x="0" dy="12.33">çà</tspan><tspan x="0" dy="12.33">craintif</tspan><tspan x="0" dy="12.33">éthique</tspan><tspan x="0" dy="12.33">télé</tspan><tspan x="0" dy="12.33">traiter</tspan><tspan x="0" dy="12.33">contrairement</tspan><tspan x="0" dy="12.33">conflit</tspan></text>
</g>
</g>

<rect id="highlight" x="1539" y="128" width="108" height="677" fill="none" stroke="#3846b8" stroke-width="3.5"/>
</svg>
